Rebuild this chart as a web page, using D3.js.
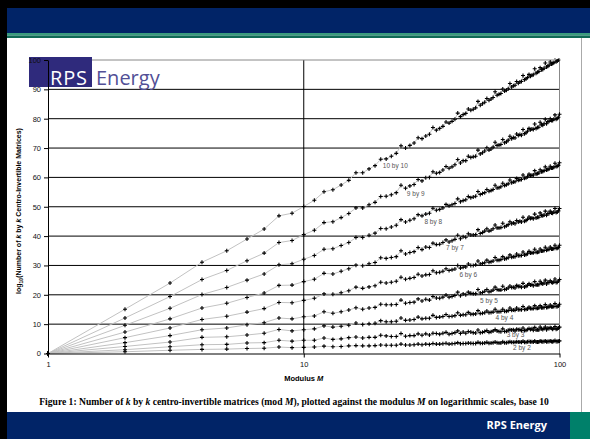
<!DOCTYPE html>
<html>
<head>
<meta charset="utf-8">
<script src="https://cdnjs.cloudflare.com/ajax/libs/d3/7.8.5/d3.min.js"></script>
<style>
  body { margin: 0; background: #fff; }
  svg { display: block; }
</style>
</head>
<body>
<div id="chart"></div>
<script>
const W = 590, H = 439;

// modulus M, one point per integer
const moduli = [1,2,3,4,5,6,7,8,9,10,11,12,13,14,15,16,17,18,19,20,
  21,22,23,24,25,26,27,28,29,30,31,32,33,34,35,36,37,38,39,40,
  41,42,43,44,45,46,47,48,49,50,51,52,53,54,55,56,57,58,59,60,
  61,62,63,64,65,66,67,68,69,70,71,72,73,74,75,76,77,78,79,80,
  81,82,83,84,85,86,87,88,89,90,91,92,93,94,95,96,97,98,99,100];

const seriesNames = ["2 by 2", "3 by 3", "4 by 4", "5 by 5", "6 by 6",
  "7 by 7", "8 by 8", "9 by 9", "10 by 10"];

// log10(count)
const v2 = [0,0.6,1.1,1.4,1.5,1.7,1.8,2.2,2.0,2.1, 2.2,2.5,2.3,2.4,2.6,2.7,2.6,2.6,2.7,2.9,
  2.8,2.8,2.8,3.2,2.9,2.9,3.0,3.2,3.0,3.2, 3.1,3.4,3.2,3.2,3.3,3.5,3.2,3.3,3.4,3.7,
  3.3,3.4,3.4,3.6,3.5,3.4,3.4,3.8,3.5,3.5, 3.6,3.8,3.5,3.6,3.7,3.9,3.7,3.6,3.6,4.0,
  3.7,3.7,3.8,4.0,3.8,3.8,3.8,4.0,3.9,3.9, 3.8,4.2,3.8,3.8,4.0,4.1,4.0,4.0,3.9,4.3,
  3.9,3.9,3.9,4.3,4.1,4.0,4.1,4.3,4.0,4.1, 4.1,4.3,4.1,4.0,4.2,4.4,4.1,4.1,4.2,4.3];
const v3 = [0,1.3,2.3,3.0,3.1,3.6,3.7,4.5,4.2,4.5, 4.5,5.3,4.8,5.0,5.4,5.6,5.3,5.5,5.5,6.2,
  6.0,5.8,5.8,6.8,5.9,6.1,6.1,6.7,6.2,6.7, 6.3,6.9,6.8,6.6,6.9,7.2,6.6,6.8,7.1,7.7,
  6.8,7.3,6.9,7.5,7.3,7.1,7.0,8.0,7.1,7.2, 7.5,7.8,7.2,7.4,7.7,8.2,7.7,7.5,7.4,8.4,
  7.5,7.6,7.9,8.1,8.0,8.1,7.7,8.3,8.1,8.2, 7.8,8.7,7.8,7.9,8.2,8.5,8.2,8.4,7.9,8.9,
  8.0,8.1,8.0,9.0,8.4,8.2,8.5,9.0,8.1,8.6, 8.5,8.8,8.6,8.3,8.6,9.2,8.3,8.4,8.7,9.0];
const v4 = [0,2.4,3.9,5.5,5.7,6.3,6.9,8.2,7.7,8.1, 8.4,9.4,9.0,9.3,9.6,10.4,9.9,10.1,10.3,11.2,
  10.8,10.8,11.0,12.1,11.3,11.4,11.6,12.4,11.8,12.0, 12.0,13.0,12.3,12.4,12.6,13.3,12.6,12.7,12.9,13.9,
  13.0,13.2,13.2,14.0,13.4,13.4,13.5,14.6,13.6,13.7, 13.9,14.5,13.9,14.0,14.1,15.1,14.2,14.2,14.3,15.1,
  14.4,14.4,14.6,15.5,14.7,14.8,14.7,15.5,14.9,15.0, 14.9,16.0,15.0,15.1,15.2,15.8,15.3,15.3,15.3,16.3,
  15.4,15.4,15.5,16.3,15.6,15.6,15.7,16.7,15.7,15.8, 15.9,16.5,15.9,15.9,16.0,17.0,16.0,16.0,16.2,16.8];
const v5 = [0,3.7,6.1,8.1,8.7,9.8,10.5,12.1,11.8,12.5, 12.8,14.2,13.7,14.2,14.8,15.6,15.1,15.5,15.7,16.8,
  16.6,16.6,16.7,18.2,17.1,17.4,17.5,18.6,17.9,18.5, 18.2,19.4,18.9,18.8,19.2,19.9,19.2,19.4,19.8,20.9,
  19.7,20.3,20.0,20.9,20.5,20.4,20.4,21.8,20.6,20.8, 21.2,21.8,21.0,21.2,21.6,22.6,21.8,21.6,21.6,22.9,
  21.8,22.0,22.3,23.0,22.5,22.6,22.3,23.2,22.8,22.9, 22.6,23.9,22.7,22.9,23.2,23.8,23.3,23.5,23.1,24.5,
  23.3,23.4,23.4,24.6,23.9,23.7,24.0,25.0,23.7,24.3, 24.2,24.8,24.3,24.1,24.4,25.4,24.2,24.3,24.7,25.2];
const v6 = [0,5.4,8.7,11.6,12.7,14.1,15.3,17.4,17.3,18.1, 18.8,20.3,20.2,20.7,21.4,22.6,22.2,22.7,23.1,24.3,
  24.0,24.3,24.6,26.0,25.3,25.6,25.9,27.0,26.4,26.8, 26.9,28.2,27.5,27.7,28.0,28.9,28.3,28.5,28.8,30.0,
  29.1,29.4,29.5,30.5,30.0,30.0,30.2,31.5,30.5,30.7, 30.9,31.8,31.1,31.3,31.5,32.7,31.8,31.8,32.0,33.0,
  32.2,32.4,32.6,33.6,32.8,33.0,33.0,33.9,33.3,33.4, 33.4,34.6,33.6,33.7,34.0,34.8,34.2,34.3,34.3,35.5,
  34.5,34.5,34.6,35.6,34.9,34.9,35.1,36.2,35.2,35.4, 35.5,36.3,35.6,35.6,35.8,36.9,35.9,35.9,36.1,36.9];
const v7 = [0,7.3,11.8,15.5,17.1,19.1,20.6,23.2,23.3,24.5, 25.3,27.3,27.1,28.0,28.9,30.1,29.9,30.6,31.0,32.6,
  32.4,32.7,33.0,35.0,33.9,34.4,34.7,36.1,35.4,36.3, 36.1,37.6,37.1,37.2,37.8,38.7,38.0,38.4,38.9,40.3,
  39.1,39.8,39.6,40.8,40.4,40.4,40.5,42.2,40.9,41.2, 41.7,42.5,41.7,42.0,42.5,43.8,42.8,42.8,42.9,44.4,
  43.2,43.5,43.9,44.9,44.2,44.5,44.2,45.3,44.8,45.1, 44.8,46.4,45.1,45.3,45.7,46.5,46.0,46.2,45.9,47.5,
  46.2,46.4,46.4,47.9,47.0,46.9,47.2,48.5,47.1,47.7, 47.7,48.5,47.9,47.8,48.2,49.4,48.0,48.2,48.6,49.4];
const v8 = [0,9.6,15.4,20.1,22.5,25.0,27.1,30.2,30.6,32.1, 33.4,35.5,35.7,36.8,37.8,39.5,39.5,40.3,41.0,42.6,
  42.5,43.1,43.7,45.6,44.8,45.4,45.9,47.3,46.9,47.5, 47.8,49.5,48.8,49.1,49.6,50.8,50.3,50.7,51.1,52.7,
  51.7,52.1,52.4,53.5,53.1,53.3,53.6,55.2,54.2,54.5, 54.8,55.9,55.3,55.5,55.9,57.3,56.4,56.5,56.8,58.0,
  57.2,57.5,57.8,59.1,58.2,58.4,58.5,59.6,59.0,59.2, 59.3,60.8,59.7,59.9,60.2,61.1,60.6,60.7,60.8,62.3,
  61.2,61.3,61.5,62.6,61.9,62.0,62.3,63.6,62.5,62.7, 62.9,63.8,63.2,63.2,63.5,64.8,63.7,63.8,64.1,65.0];
const v9 = [0,12.1,19.4,25.2,28.3,31.6,34.2,37.8,38.5,40.5, 42.0,44.6,44.9,46.3,47.7,49.6,49.6,50.7,51.5,53.5,
  53.6,54.1,54.8,57.3,56.3,57.1,57.6,59.3,58.8,59.9, 60.0,61.9,61.4,61.7,62.5,63.7,63.1,63.6,64.3,66.1,
  64.9,65.7,65.7,67.2,66.8,67.0,67.2,69.3,68.0,68.4, 69.0,70.1,69.3,69.7,70.3,72.0,70.9,71.0,71.2,72.9,
  71.8,72.1,72.7,74.0,73.2,73.6,73.4,74.8,74.3,74.6, 74.4,76.3,74.9,75.2,75.7,76.7,76.2,76.5,76.3,78.2,
  76.7,77.0,77.1,78.8,77.9,77.8,78.3,79.8,78.3,79.0, 79.1,80.0,79.4,79.4,79.8,81.3,79.8,80.1,80.5,81.5];
const v10 = [0,15.1,24.0,31.1,35.0,39.0,42.4,46.9,47.8,50.1, 52.2,55.1,55.8,57.4,59.0,61.6,61.6,62.9,64.0,66.2,
  66.3,67.2,68.2,70.8,70.0,70.9,71.7,73.5,73.2,74.1, 74.7,77.0,76.1,76.7,77.4,78.9,78.5,79.1,79.8,81.9,
  80.7,81.4,81.8,83.3,82.9,83.2,83.7,85.9,84.6,85.1, 85.6,86.9,86.3,86.7,87.2,89.2,88.0,88.3,88.6,90.1,
  89.4,89.7,90.2,92.0,90.8,91.2,91.4,92.7,92.1,92.5, 92.7,94.7,93.3,93.6,94.0,95.1,94.5,94.8,95.0,97.0,
  95.5,95.8,96.1,97.4,96.7,96.8,97.2,99.0,97.6,97.9, 98.2,99.3,98.6,98.8,99.1,100.9,99.4,99.7,100.0,101.1];

const seriesValues = [v2, v3, v4, v5, v6, v7, v8, v9, v10];

const yTicks = [0,10,20,30,40,50,60,70,80,90,100];
const xTicks = [1, 10, 100];

// where each series label sits, in data units [M, value]
const labelAt = [[71.3,1.2],[67.3,5.5],[60.9,11.3],[53,17.2],[44,26.1],
  [39,35.3],[32.1,44.0],[27.4,53.8],[22.8,63.1]];

const svg = d3.select("#chart").append("svg")
  .attr("width", W).attr("height", H);

svg.append("rect").attr("width", W).attr("height", H).attr("fill", "#fff");

// slide frame
svg.append("rect").attr("x", 0).attr("y", 0).attr("width", W).attr("height", 8).attr("fill", "#000");
svg.append("rect").attr("x", 0).attr("y", 8).attr("width", W).attr("height", 25).attr("fill", "#012467");
svg.append("rect").attr("x", 0).attr("y", 33).attr("width", W).attr("height", 2.5).attr("fill", "#3a9c7e");
svg.append("rect").attr("x", 0).attr("y", 35.5).attr("width", W).attr("height", 2.5).attr("fill", "#0f6a56");
svg.append("rect").attr("x", 0).attr("y", 412).attr("width", W).attr("height", H - 412).attr("fill", "#012467");
svg.append("rect").attr("x", 570).attr("y", 412).attr("width", 20).attr("height", H - 412).attr("fill", "#00806a");
svg.append("rect").attr("x", 0).attr("y", 0).attr("width", 7).attr("height", H).attr("fill", "#000");
svg.append("line").attr("x1", 581.5).attr("x2", 581.5).attr("y1", 38).attr("y2", 412)
  .attr("stroke", "#aaa").attr("stroke-width", 1);

svg.append("text").attr("x", 547).attr("y", 429).attr("text-anchor", "end")
  .attr("font-family", "Open Sans, Liberation Sans, sans-serif").attr("font-weight", "bold")
  .attr("font-size", "11px").attr("fill", "#fff").text("RPS Energy");

// chart
const x = d3.scaleLog().domain([1, 100]).range([48, 559.5]);
const y = d3.scaleLinear().domain([0, 100]).range([353.5, 60]);

const plot = svg.append("g");

plot.selectAll(".hgrid").data(yTicks.filter(d => d > 0 && d < 100)).join("line")
  .attr("x1", x(1)).attr("x2", x(100))
  .attr("y1", d => y(d)).attr("y2", d => y(d))
  .attr("stroke", "#000").attr("stroke-width", 1);
plot.append("line").attr("x1", x(10)).attr("x2", x(10)).attr("y1", y(0)).attr("y2", y(100))
  .attr("stroke", "#000").attr("stroke-width", 1);
plot.append("line").attr("x1", x(1)).attr("x2", x(100)).attr("y1", y(100)).attr("y2", y(100))
  .attr("stroke", "#888").attr("stroke-width", 1);
plot.append("line").attr("x1", x(100)).attr("x2", x(100)).attr("y1", y(0)).attr("y2", y(100))
  .attr("stroke", "#888").attr("stroke-width", 1);

svg.append("clipPath").attr("id", "clip").append("rect")
  .attr("x", 40).attr("y", y(100) - 1.5).attr("width", 530).attr("height", 310);

const marks = plot.append("g").attr("clip-path", "url(#clip)");
const line = d3.line().x((d, i) => x(moduli[i])).y(d => y(d));

marks.selectAll(".series").data(seriesValues).join("path")
  .attr("d", d => line(d))
  .attr("fill", "none").attr("stroke", "#c2c2c2").attr("stroke-width", 1);

seriesValues.forEach(vals => {
  marks.append("g").selectAll("path").data(vals).join("path")
    .attr("transform", (d, i) => `translate(${x(moduli[i])},${y(d)})`)
    .attr("d", "M-2,0H2M0,-2V2")
    .attr("stroke", "#000").attr("stroke-width", 1.1);
});

plot.selectAll(".lab").data(seriesNames).join("text")
  .attr("x", (d, i) => x(labelAt[i][0]))
  .attr("y", (d, i) => y(labelAt[i][1]))
  .attr("text-anchor", "middle")
  .attr("font-family", "Liberation Sans, Arial, sans-serif")
  .attr("font-size", "6.5px").attr("fill", "#555")
  .text(d => d);

// logo
const logo = svg.append("g");
logo.append("rect").attr("x", 29).attr("y", 57).attr("width", 63).attr("height", 30).attr("fill", "#2f2a7c");
logo.append("text").attr("x", 50).attr("y", 85)
  .attr("font-family", "Open Sans, sans-serif").attr("font-size", "20px")
  .attr("letter-spacing", "0.8px").attr("fill", "#fff").text("RPS");
logo.append("text").attr("x", 96).attr("y", 85)
  .attr("font-family", "Open Sans, sans-serif").attr("font-size", "20px")
  .attr("fill", "#524f96").text("Energy");

// axes
const yAxis = svg.append("g").attr("transform", `translate(${x(1)},0)`)
  .call(d3.axisLeft(y).tickValues(yTicks).tickSize(4).tickSizeOuter(0).tickPadding(3));
const xAxis = svg.append("g").attr("transform", `translate(0,${y(0)})`)
  .call(d3.axisBottom(x).tickValues(xTicks).tickFormat(d3.format("d")).tickSize(4).tickSizeOuter(0).tickPadding(4));
[yAxis, xAxis].forEach(a => {
  a.selectAll("path, line").attr("stroke", "#000");
  a.selectAll("text").attr("font-family", "Liberation Sans, Arial, sans-serif")
    .attr("font-size", "7.5px").attr("fill", "#111");
});

svg.append("text").attr("x", x(10)).attr("y", 381).attr("text-anchor", "middle")
  .attr("font-family", "Liberation Sans, Arial, sans-serif").attr("font-size", "7.5px")
  .attr("font-weight", "bold")
  .call(t => {
    t.append("tspan").text("Modulus ");
    t.append("tspan").attr("font-style", "italic").text("M");
  });

svg.append("text").attr("transform", "translate(21,211) rotate(-90)")
  .attr("text-anchor", "middle")
  .attr("font-family", "Liberation Sans, Arial, sans-serif").attr("font-size", "7px")
  .attr("font-weight", "bold")
  .call(t => {
    t.append("tspan").text("log");
    t.append("tspan").attr("font-size", "5px").attr("dy", "2").text("10");
    t.append("tspan").attr("dy", "-2").text("(Number of ");
    t.append("tspan").attr("font-style", "italic").text("k");
    t.append("tspan").text(" by ");
    t.append("tspan").attr("font-style", "italic").text("k");
    t.append("tspan").text(" Centro-Invertible Matrices)");
  });

svg.append("text").attr("x", 294).attr("y", 405).attr("text-anchor", "middle")
  .attr("font-family", "Liberation Serif, Times New Roman, serif").attr("font-size", "9.6px")
  .attr("font-weight", "bold")
  .call(t => {
    t.append("tspan").text("Figure 1: Number of ");
    t.append("tspan").attr("font-style", "italic").text("k");
    t.append("tspan").text(" by ");
    t.append("tspan").attr("font-style", "italic").text("k");
    t.append("tspan").text(" centro-invertible matrices (mod ");
    t.append("tspan").attr("font-style", "italic").text("M");
    t.append("tspan").text("), plotted against the modulus ");
    t.append("tspan").attr("font-style", "italic").text("M");
    t.append("tspan").text(" on logarithmic scales, base 10");
  });
</script>
</body>
</html>
